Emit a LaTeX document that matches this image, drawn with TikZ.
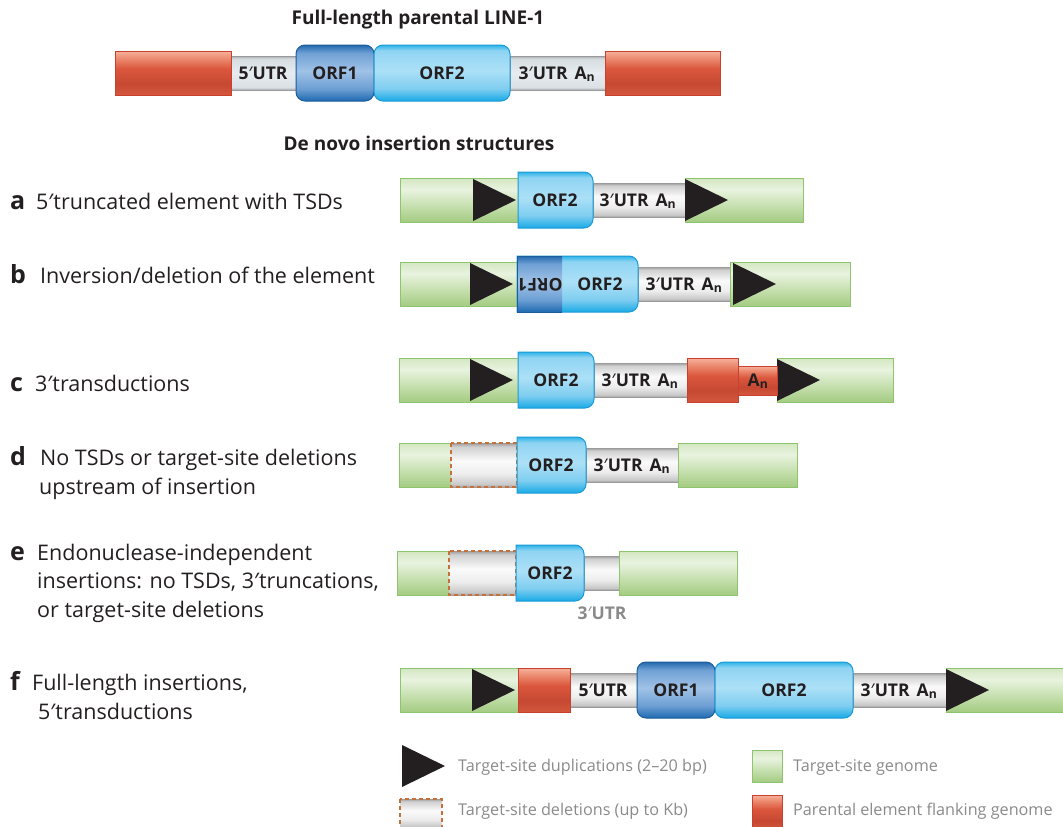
\documentclass[tikz,border=0pt]{standalone}
\usepackage{fontspec}
\setmainfont{Open Sans}
\newfontfamily\primefont{Noto Sans}
\newcommand{\Pm}{{\primefont ′}}
\definecolor{txt}{HTML}{231F20}
\definecolor{legtxt}{HTML}{8A8A8A}
\definecolor{gA}{HTML}{A4CB82}
\definecolor{gB}{HTML}{BFDCA6}
\definecolor{gC}{HTML}{E9F3E0}
\definecolor{gD}{HTML}{D3E7C1}
\definecolor{gbord}{HTML}{8EC46E}
\definecolor{rA}{HTML}{D3573D}
\definecolor{rB}{HTML}{C64832}
\definecolor{rC}{HTML}{DB573D}
\definecolor{rD}{HTML}{EA876C}
\definecolor{rE}{HTML}{F7B39C}
\definecolor{rbord}{HTML}{C9412E}
\definecolor{uA}{HTML}{A0A0A0}
\definecolor{uB}{HTML}{C8C8C8}
\definecolor{uC}{HTML}{EDEDED}
\definecolor{uD}{HTML}{FAFAFA}
\definecolor{uE}{HTML}{CFCFCF}
\definecolor{uF}{HTML}{9C9C9C}
\definecolor{pA}{HTML}{A5ABAE}
\definecolor{pB}{HTML}{DAE0E3}
\definecolor{pC}{HTML}{E6ECEF}
\definecolor{pD}{HTML}{D6DDE0}
\definecolor{ubord}{HTML}{9A9A9A}
\definecolor{tA}{HTML}{18AAE6}
\definecolor{tB}{HTML}{7ECDF0}
\definecolor{tC}{HTML}{ACE0F6}
\definecolor{tD}{HTML}{8FD4F3}
\definecolor{tE}{HTML}{2DB4E9}
\definecolor{o2bord}{HTML}{1C9AD6}
\definecolor{oA}{HTML}{1E6AB0}
\definecolor{oB}{HTML}{6D9FD4}
\definecolor{oC}{HTML}{A0C2E6}
\definecolor{oD}{HTML}{6FA0D5}
\definecolor{oE}{HTML}{2369AE}
\definecolor{o1bord}{HTML}{1A5C9C}
\definecolor{delc}{HTML}{C8703A}
\pgfdeclareverticalshading{greensh}{100bp}{color(0bp)=(gA); color(25bp)=(gA); color(40bp)=(gB); color(62bp)=(gC); color(75bp)=(gD); color(100bp)=(gD)}
\pgfdeclareverticalshading{redsh}{100bp}{color(0bp)=(rA); color(25bp)=(rA); color(38bp)=(rB); color(55bp)=(rC); color(66bp)=(rD); color(75bp)=(rE); color(100bp)=(rE)}
\pgfdeclareverticalshading{greysh}{100bp}{color(0bp)=(uA); color(25bp)=(uA); color(28bp)=(uB); color(40bp)=(uC); color(55bp)=(uD); color(71bp)=(uE); color(75bp)=(uF); color(100bp)=(uF)}
\pgfdeclareverticalshading{greyPsh}{100bp}{color(0bp)=(pA); color(25bp)=(pA); color(29bp)=(pB); color(50bp)=(pC); color(71bp)=(pD); color(75bp)=(pA); color(100bp)=(pA)}
\pgfdeclareverticalshading{orftwosh}{100bp}{color(0bp)=(tA); color(25bp)=(tA); color(36bp)=(tB); color(52bp)=(tC); color(70bp)=(tD); color(75bp)=(tE); color(100bp)=(tE)}
\pgfdeclareverticalshading{orfonesh}{100bp}{color(0bp)=(oA); color(25bp)=(oA); color(36bp)=(oB); color(52bp)=(oC); color(68bp)=(oD); color(75bp)=(oE); color(100bp)=(oE)}
\tikzset{
  gen/.style={shading=greensh, draw=gbord, line width=1pt},
  par/.style={shading=redsh, draw=rbord, line width=1pt},
  utr/.style={shading=greysh, draw=ubord, line width=0.8pt},
  utrp/.style={shading=greyPsh, draw=ubord, line width=0.8pt},
  orftwo/.style={shading=orftwosh, draw=o2bord, line width=1pt},
  orfone/.style={shading=orfonesh, draw=o1bord, line width=1pt},
  tsd/.style={fill=txt},
  del/.style={shading=greysh, draw=delc, dash pattern=on 4pt off 3pt, line width=1.2pt},
  ttl/.style={anchor=base, inner sep=0, font=\fontsize{19}{21}\selectfont\bfseries, text=txt},
  lbl/.style={anchor=base west, inner sep=0, font=\fontsize{21.5}{24}\selectfont, text=txt},
  letter/.style={anchor=base west, inner sep=0, font=\fontsize{25}{26}\selectfont\bfseries, text=txt},
  blk/.style={anchor=base, inner sep=0, font=\fontsize{17.5}{19}\selectfont\bfseries, text=txt},
  leg/.style={anchor=base west, inner sep=0, font=\fontsize{16.2}{19}\selectfont, text=legtxt},
}
\newcommand{\Gbox}[3]{\path[gen] (#1,#3-22) rectangle (#2,#3+22);}
\newcommand{\Rbox}[3]{\path[par] (#1,#3-22) rectangle (#2,#3+22);}
\newcommand{\Ubar}[3]{\path[utr] (#1,#3-17) rectangle (#2,#3+17);}
\newcommand{\Dbox}[3]{\path[del] (#1,#3-22) rectangle (#2,#3+22);}
\newcommand{\Tsd}[2]{\fill[tsd] (#1,#2-21) -- (#1+43,#2) -- (#1,#2+21) -- cycle;}
\newcommand{\Orf}[4]{\path[#4, rounded corners=9pt] (#1,#3-28) rectangle (#2,#3+28);}
\newcommand{\OrfT}[4]{\path[#4] (#1,#3-28) -- (#2-9,#3-28) arc[start angle=-90,end angle=0,radius=9] -- (#2,#3+19) arc[start angle=0,end angle=90,radius=9] -- (#1,#3+28) -- cycle;}
\newcommand{\UTRn}{3\Pm{}UTR\hspace{7pt}A\textsubscript{n}}
\begin{document}
\begin{tikzpicture}[x=1pt,y=-1pt]
\useasboundingbox (0,0) rectangle (1063,827);
% titles
\node[ttl] (title) at (418,24) {Full-length parental LINE-1};
\node[ttl] (subtitle) at (419,150) {De novo insertion structures};
% parental
\path[utrp] (231,56) rectangle (296,90);
\path[utrp] (510,56) rectangle (605,90);
\Rbox{115}{231}{73}
\Rbox{605}{720}{73}
\Orf{296}{374}{73}{orfone}
\Orf{374}{510}{73}{orftwo}
\node[blk] (p5) at (263,79) {5\Pm{}UTR};
\node[blk] (p1) at (335,79) {ORF1};
\node[blk] (p2) at (442,79) {ORF2};
\node[blk] (p3) at (557,79) {\UTRn};
% row a
\Ubar{593}{685}{200}
\Gbox{400}{518}{200}
\Gbox{685}{803}{200}
\Tsd{473}{200}
\Tsd{685}{200}
\OrfT{518}{593}{200}{orftwo}
\node[blk] (a2) at (555,206) {ORF2};
\node[blk] (a3) at (638,206) {\UTRn};
% row b
\Ubar{638}{730}{284}
\Gbox{400}{517}{284}
\Gbox{730}{850}{284}
\Tsd{470}{284}
\Tsd{733}{284}
\OrfT{517}{638}{284}{orftwo}
\path[shading=orfonesh] (517,256) rectangle (562,312);
\draw[o1bord, line width=1pt] (562,256) -- (517,256) -- (517,312) -- (562,312);
\node[blk, anchor=center, rotate=180] (b1) at (540,285) {ORF1};
\node[blk] (b2) at (600,290) {ORF2};
\node[blk] (b3) at (684,290) {\UTRn};
% row c
\Ubar{594}{687}{380}
\Gbox{399}{518}{380}
\Gbox{777}{893}{380}
\Tsd{470}{380}
\Tsd{777}{380}
\OrfT{518}{594}{380}{orftwo}
\Rbox{687}{738}{380}
\path[par] (738,366) rectangle (777,395);
\node[blk] (c2) at (556,386) {ORF2};
\node[blk] (c3) at (640,386) {\UTRn};
\node[blk] (c4) at (758,386) {A\textsubscript{n}};
% row d
\Ubar{586}{678}{465}
\Gbox{399}{451}{465}
\Dbox{451}{517}{465}
\Gbox{678}{797}{465}
\OrfT{517}{586}{465}{orftwo}
\node[blk] (d2) at (551,471) {ORF2};
\node[blk] (d3) at (632,471) {\UTRn};
% row e
\Ubar{584}{619}{573}
\Gbox{397}{449}{573}
\Dbox{449}{516}{573}
\Gbox{619}{737}{573}
\OrfT{516}{584}{573}{orftwo}
\node[blk] (e2) at (550,579) {ORF2};
\node[blk, text=legtxt] (e3) at (602,619) {3\Pm{}UTR};
% row f
\Ubar{570}{637}{690}
\Ubar{853}{946}{690}
\Gbox{400}{518}{690}
\Gbox{946}{1075}{690}
\Tsd{472}{690}
\Tsd{946}{690}
\Rbox{518}{570}{690}
\Orf{637}{715}{690}{orfone}
\Orf{715}{853}{690}{orftwo}
\node[blk] (f5) at (603,696) {5\Pm{}UTR};
\node[blk] (f1) at (676,696) {ORF1};
\node[blk] (f2) at (784,696) {ORF2};
\node[blk] (f3) at (899,696) {\UTRn};
% row labels
\node[letter] (la) at (10,209) {a};
\node[lbl] (ta) at (36,209) {5\Pm{}truncated element with TSDs};
\node[letter] (lb) at (10,283) {b};
\node[lbl] (tb) at (40,283) {Inversion/deletion of the element};
\node[letter] (lc) at (10,391) {c};
\node[lbl] (tc) at (35,391) {3\Pm{}transductions};
\node[letter] (ld) at (10,465) {d};
\node[lbl] (td1) at (40,465) {No TSDs or target-site deletions};
\node[lbl] (td2) at (39,494) {upstream of insertion};
\node[letter] (le) at (10,560) {e};
\node[lbl] (te1) at (37,560) {Endonuclease-independent};
\node[lbl] (te2) at (37,588) {insertions: no TSDs, 3\Pm{}truncations,};
\node[lbl] (te3) at (37,617) {or target-site deletions};
\node[letter] (lf) at (10,690) {f};
\node[lbl] (tf1) at (32,690) {Full-length insertions,};
\node[lbl] (tf2) at (38,719) {5\Pm{}transductions};
% legend
\Tsd{402}{766}
\node[leg] (k1) at (458,771) {Target-site duplications (2–20 bp)};
\path[gen] (752,750) rectangle (782,782);
\node[leg] (k2) at (793,771) {Target-site genome};
\path[del] (400,799) rectangle (442,828);
\node[leg] (k3) at (458,815) {Target-site deletions (up to Kb)};
\path[par] (752,795) rectangle (782,830);
\node[leg] (k4) at (793,815) {Parental element flanking genome};
\end{tikzpicture}
\end{document}
